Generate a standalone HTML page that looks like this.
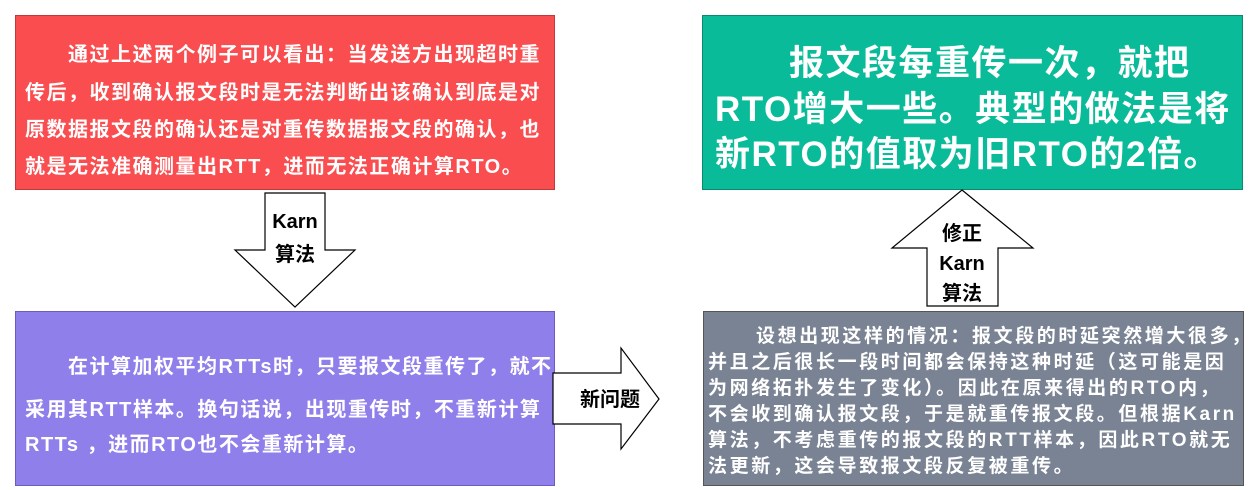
<!DOCTYPE html>
<html><head><meta charset="utf-8"><style>
body{margin:0;width:1249px;height:490px;background:#fff;position:relative;overflow:hidden;font-family:"Liberation Sans","Noto Sans CJK SC",sans-serif;font-weight:bold}
.box{position:absolute;box-sizing:border-box;color:#fff;white-space:nowrap}
.box div{position:absolute;left:0}
</style></head><body>
<div class="box" style="left:15px;top:15px;width:540px;height:175px;background:#F94D4F;border:1px solid #c03a3a;font-size:20px;letter-spacing:1.5px">
<div style="top:22px;left:52px">通过上述两个例子可以看出：当发送方出现超时重</div>
<div style="top:60px;left:9px">传后，收到确认报文段时是无法判断出该确认到底是对</div>
<div style="top:97px;left:9px">原数据报文段的确认还是对重传数据报文段的确认，也</div>
<div style="top:134px;left:9px">就是无法准确测量出RTT，进而无法正确计算RTO。</div>
</div>
<div class="box" style="left:702px;top:15px;width:541px;height:175px;background:#0ABB9A;border:1px solid #0a8a70;font-size:35px;letter-spacing:1.5px">
<div style="top:19px;left:86px">报文段每重传一次，就把</div>
<div style="top:65px;left:12px">RTO增大一些。典型的做法是将</div>
<div style="top:110px;left:12px">新RTO的值取为旧RTO的2倍。</div>
</div>
<div class="box" style="left:15px;top:311px;width:540px;height:175px;background:#8E7FEB;border:1px solid #6a5cc0;font-size:20px;letter-spacing:1.5px">
<div style="top:38px;left:52px">在计算加权平均RTTs时，只要报文段重传了，就不</div>
<div style="top:81px;left:9px">采用其RTT样本。换句话说，出现重传时，不重新计算</div>
<div style="top:116px;left:9px">RTTs ，进而RTO也不会重新计算。</div>
</div>
<div class="box" style="left:703px;top:311px;width:541px;height:175px;background:#7A8393;border:1px solid #555;font-size:19px;letter-spacing:2.6px">
<div style="top:9px;left:52px">设想出现这样的情况：报文段的时延突然增大很多，</div>
<div style="top:35px;left:4px">并且之后很长一段时间都会保持这种时延（这可能是因</div>
<div style="top:61px;left:4px">为网络拓扑发生了变化）。因此在原来得出的RTO内，</div>
<div style="top:87px;left:4px">不会收到确认报文段，于是就重传报文段。但根据Karn</div>
<div style="top:113px;left:4px">算法，不考虑重传的报文段的RTT样本，因此RTO就无</div>
<div style="top:139px;left:4px">法更新，这会导致报文段反复被重传。</div>
</div>
<svg style="position:absolute;left:0;top:0" width="1249" height="490">
<polygon points="265,193 325,193 325,250 355,250 295,307 235,250 265,250" fill="#fff" stroke="#000" stroke-width="1.2"/>
<polygon points="553,373 621,373 621,348 659,399 621,449 621,424 553,424" fill="#fff" stroke="#000" stroke-width="1.2"/>
<polygon points="962,190 1033,248 998,248 998,306 927,306 927,248 892,248" fill="#fff" stroke="#000" stroke-width="1.2"/>
<g font-family="Liberation Sans, Noto Sans CJK SC, sans-serif" font-weight="bold" font-size="20" text-anchor="middle" fill="#000">
<text x="295" y="228">Karn</text><text x="295" y="261">算法</text>
<text x="610" y="406">新问题</text>
<text x="962" y="240">修正</text><text x="962" y="270">Karn</text><text x="962" y="300">算法</text>
</g>
</svg>
</body></html>
